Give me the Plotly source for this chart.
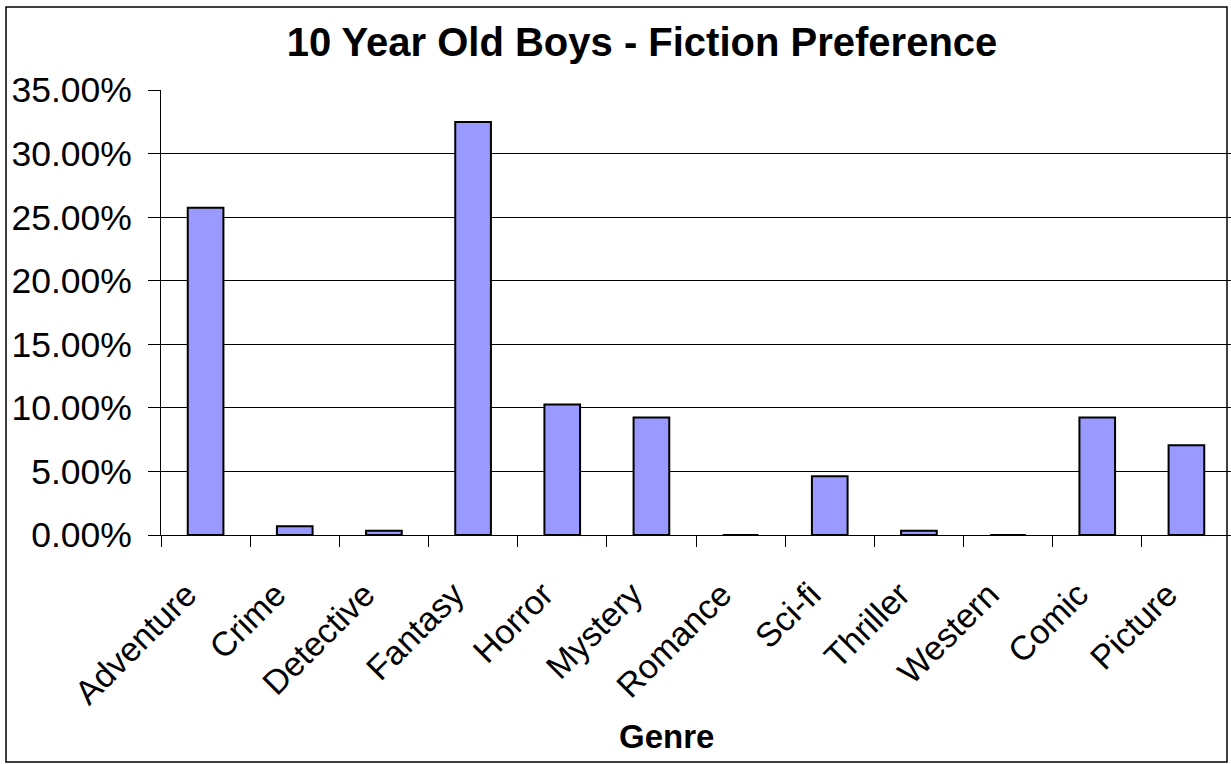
import plotly.graph_objects as go

genres = ["Adventure", "Crime", "Detective", "Fantasy", "Horror", "Mystery",
          "Romance", "Sci-fi", "Thriller", "Western", "Comic", "Picture"]
shares = [0.2574, 0.0068, 0.0034, 0.3249, 0.1027, 0.0925,
          0.0, 0.0462, 0.0034, 0.0, 0.0925, 0.0706]

W, H = 1231, 764
L, R, T, B = 161, 1231, 90, 535
pw, ph = R - L, B - T

def px(x):
    return (x - L) / pw

def py(y):
    return (B - y) / ph

FONT = "Liberation Sans, Arial, Helvetica, sans-serif"

fig = go.Figure(go.Bar(
    x=genres, y=shares,
    marker=dict(color="#9999FF", line=dict(color="black", width=2)),
    width=0.4,
))

fig.update_layout(
    width=W, height=H,
    margin=dict(l=L, r=W - R, t=T, b=H - B),
    paper_bgcolor="white", plot_bgcolor="white",
    showlegend=False,
    font=dict(family=FONT, color="black"),
    title=dict(text="<b>10 Year Old Boys - Fiction Preference</b>",
               x=642 / W, xref="container", xanchor="center",
               y=1 - 42 / H, yref="container", yanchor="middle",
               font=dict(size=40, family=FONT, color="black")),
    xaxis=dict(
        type="category", tickangle=-45, tickson="boundaries",
        ticks="outside", ticklen=11, tickcolor="black", tickwidth=1,
        showline=True, linecolor="black", linewidth=1,
        showgrid=False, tickfont=dict(size=34, family=FONT, color="black"),
        range=[-0.5, 11.5], ticklabelstandoff=25, ticklabelshift=-19,
    ),
    yaxis=dict(
        range=[0, 0.35], dtick=0.05, tickformat=".2%",
        ticks="outside", ticklen=12, tickcolor="black", tickwidth=1,
        showline=True, linecolor="black", linewidth=1,
        showgrid=True, gridcolor="black", gridwidth=1,
        zeroline=False, ticklabelstandoff=9,
        tickfont=dict(size=35.5, family=FONT, color="black"),
    ),
    shapes=[dict(type="rect", xref="paper", yref="paper",
                 x0=px(6), x1=px(1227), y0=py(762), y1=py(7),
                 line=dict(color="black", width=1.5), layer="below")],
    annotations=[dict(text="<b>Genre</b>", xref="paper", yref="paper",
                      x=px(666), y=py(736), xanchor="center", yanchor="middle",
                      showarrow=False, font=dict(size=33, family=FONT, color="black"))],
)

fig.write_html("out.html", config={"displayModeBar": False},
               post_script="document.body.style.margin='0';")
